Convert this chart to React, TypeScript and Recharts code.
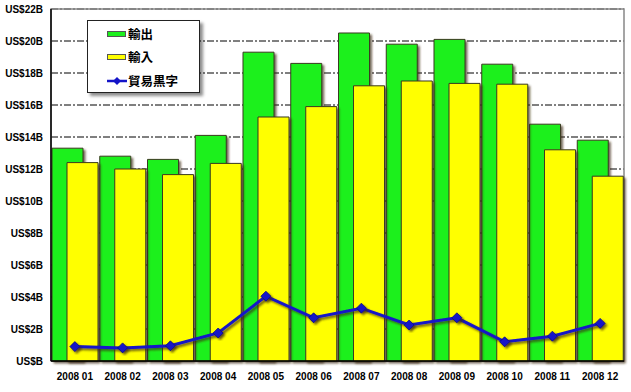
import React from 'react';
import {
  ComposedChart,
  Bar,
  Line,
  XAxis,
  YAxis,
  CartesianGrid,
  ReferenceArea,
} from 'recharts';

// ---- data ----
const months = [
  '2008 01', '2008 02', '2008 03', '2008 04', '2008 05', '2008 06',
  '2008 07', '2008 08', '2008 09', '2008 10', '2008 11', '2008 12',
];
const exportsB = [13.3, 12.8, 12.6, 14.1, 19.3, 18.6, 20.5, 19.8, 20.1, 18.55, 14.8, 13.8];
const importsB = [12.4, 12.0, 11.65, 12.35, 15.25, 15.9, 17.2, 17.5, 17.35, 17.3, 13.2, 11.55];
const surplusB = [0.9, 0.82, 0.95, 1.75, 4.05, 2.7, 3.3, 2.25, 2.7, 1.2, 1.55, 2.35];
const yTicks = [0, 2, 4, 6, 8, 10, 12, 14, 16, 18, 20, 22];
const legendLabels = ['輸出', '輸入', '貿易黒字'];

const GREEN = '#1cf01c';
const YELLOW = '#ffff00';
const BLUE = '#1414c8';
const FONT = 'Arial, "Liberation Sans", "Noto Sans CJK JP", sans-serif';

const chartData = months.map((m, i) => ({
  month: m,
  exports: exportsB[i],
  imports: importsB[i],
  surplus: surplusB[i],
}));

function Diamond(props: any) {
  const { cx, cy, index } = props;
  if (cx == null || cy == null) return null;
  const r = 5;
  return (
    <path
      key={`d-${index}`}
      d={`M${cx},${cy - r} L${cx + r},${cy} L${cx},${cy + r} L${cx - r},${cy} Z`}
      fill={BLUE}
      stroke="#0a0a80"
      strokeWidth={0.8}
      filter="url(#shadow)"
    />
  );
}

function LegendBox() {
  const rows = [
    { label: legendLabels[0], kind: 'bar', color: GREEN },
    { label: legendLabels[1], kind: 'bar', color: YELLOW },
    { label: legendLabels[2], kind: 'line', color: BLUE },
  ];
  return (
    <div
      style={{
        position: 'absolute',
        left: 87,
        top: 20,
        width: 113,
        height: 73,
        background: '#fff',
        border: '1px solid #222',
        boxShadow: '3px 3px 3px rgba(0,0,0,0.45)',
        boxSizing: 'border-box',
        paddingTop: 1,
      }}
    >
      {rows.map((r) => (
        <div
          key={r.label}
          style={{ display: 'flex', alignItems: 'center', height: 23.5, paddingLeft: 19 }}
        >
          <svg width={20} height={12} style={{ display: 'block' }}>
            {r.kind === 'bar' ? (
              <rect x={0.5} y={3.5} width={18} height={5} fill={r.color} stroke="#555" strokeWidth={1} />
            ) : (
              <g>
                <line x1={0} y1={6} x2={20} y2={6} stroke={r.color} strokeWidth={2.5} />
                <path d="M10,2 L14,6 L10,10 L6,6 Z" fill={r.color} />
              </g>
            )}
          </svg>
          <span
            style={{
              fontFamily: '"Noto Sans CJK JP", sans-serif',
              fontWeight: 700,
              fontSize: 12.5,
              color: '#000',
              lineHeight: 1,
              marginLeft: 1,
            }}
          >
            {r.label}
          </span>
        </div>
      ))}
    </div>
  );
}

export default function App() {
  return (
    <div style={{ position: 'absolute', left: 0, top: 0, width: 631, height: 392, background: '#fff' }}>
      <ComposedChart
        width={631}
        height={392}
        data={chartData}
        margin={{ top: 9, right: 7, left: 0, bottom: 0 }}
        barGap={-16}
        barCategoryGap={0}
      >
        <defs>
          <filter id="shadow" x="-20%" y="-20%" width="150%" height="150%">
            <feDropShadow dx={2} dy={2} stdDeviation={1} floodColor="#3a2a10" floodOpacity={0.7} />
          </filter>
        </defs>
        <CartesianGrid
          horizontal
          vertical={false}
          stroke="#000"
          strokeDasharray="7 2 2 2"
          strokeWidth={1}
        />
        <ReferenceArea y1={0} y2={22} fill="none" stroke="#888" strokeWidth={1.5} ifOverflow="visible" />
        <XAxis
          dataKey="month"
          height={31}
          tickLine={false}
          axisLine={{ stroke: '#000', strokeWidth: 1.5 }}
          tickMargin={6}
          interval={0}
          tick={{ fontSize: 10, fontWeight: 700, fill: '#000', fontFamily: FONT }}
        />
        <YAxis
          width={51}
          domain={[0, 22]}
          ticks={yTicks}
          interval={0}
          tickLine={false}
          axisLine={{ stroke: '#000', strokeWidth: 1.5 }}
          tickFormatter={(v: number) => (v === 0 ? 'US$B' : `US$${v}B`)}
          tick={{ fontSize: 10, fontWeight: 700, fill: '#000', fontFamily: FONT }}
        />
        <Bar
          dataKey="exports"
          name={legendLabels[0]}
          fill={GREEN}
          stroke="#3a3a20"
          strokeWidth={1}
          barSize={31}
          filter="url(#shadow)"
          isAnimationActive={false}
        />
        <Bar
          dataKey="imports"
          name={legendLabels[1]}
          fill={YELLOW}
          stroke="#3a3a20"
          strokeWidth={1}
          barSize={31}
          filter="url(#shadow)"
          isAnimationActive={false}
        />
        <Line
          dataKey="surplus"
          name={legendLabels[2]}
          type="linear"
          stroke={BLUE}
          strokeWidth={3}
          dot={<Diamond />}
          activeDot={false}
          filter="url(#shadow)"
          isAnimationActive={false}
        />
      </ComposedChart>
      <LegendBox />
    </div>
  );
}
